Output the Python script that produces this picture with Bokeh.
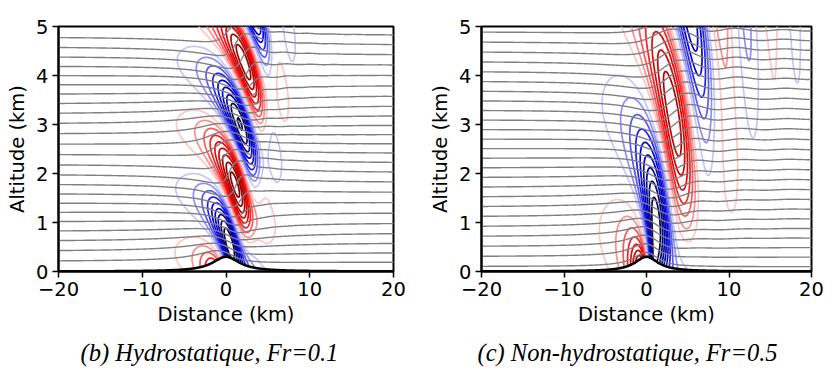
import numpy as np
from math import factorial
from bokeh.plotting import figure
from bokeh.layouts import row
from bokeh.models import Title
from bokeh.embed import file_html
from bokeh.resources import INLINE

# ---- values ----
X_TICKS = [-20, -10, 0, 10, 20]
Y_TICKS = [0, 1, 2, 3, 4, 5]
X_LABELS = {-20: "\u221220", -10: "\u221210", 0: "0", 10: "10", 20: "20"}
CAPTIONS = ["(b) Hydrostatique, Fr=0.1", "(c) Non-hydrostatique, Fr=0.5"]
MOUNTAIN_HEIGHT_KM = 0.3
MOUNTAIN_HALF_WIDTH_KM = [2.0, 1.75]      # panel b / panel c
WAVELENGTH_KM = [2.65, 5.5]               # 2*pi*U/N seen in each panel
NONLINEAR_BOUNDARY = [False, True]
STREAMLINES_B = [0.2, 0.4, 0.6, 0.8, 1.0, 1.2, 1.4, 1.6, 1.8, 2.0, 2.2, 2.4,
                 2.6, 2.8, 3.0, 3.2, 3.4, 3.6, 3.8, 4.0, 4.2, 4.4, 4.6, 4.8]
STREAMLINES_C = [0.1, 0.3, 0.5, 0.7, 0.9, 1.1, 1.3, 1.5, 1.7, 1.9, 2.1, 2.3,
                 2.5, 2.7, 2.9, 3.1, 3.3, 3.5, 3.7, 3.9, 4.1, 4.3, 4.5, 4.7, 4.9]
W_LEVELS = [-0.9, -0.8, -0.7, -0.6, -0.5, -0.4, -0.3, -0.2, -0.1,
            0.1, 0.2, 0.3, 0.4, 0.5, 0.6, 0.7, 0.8, 0.9]


def seismic(t):
    pos = [0.0, 0.25, 0.5, 0.75, 1.0]
    r = np.interp(t, pos, [0.0, 0.0, 1.0, 1.0, 0.5])
    g = np.interp(t, pos, [0.0, 0.0, 1.0, 0.0, 0.0])
    b = np.interp(t, pos, [0.3, 1.0, 1.0, 0.0, 0.0])
    return "#%02x%02x%02x" % (int(round(r * 255)), int(round(g * 255)), int(round(b * 255)))


lv = np.array(W_LEVELS)
LEVEL_COLORS = [seismic((v - lv.min()) / (lv.max() - lv.min())) for v in lv]


def solve(i):
    """Long's model: streamline displacement above a bell-shaped hill."""
    l = 2 * np.pi / WAVELENGTH_KM[i]
    a = MOUNTAIN_HALF_WIDTH_KM[i]
    n, dx = 32768, 0.05
    x = (np.arange(n) - n // 2) * dx
    hf = MOUNTAIN_HEIGHT_KM * a ** 2 / (x ** 2 + a ** 2)
    k = 2 * np.pi * np.fft.rfftfreq(n, dx)
    im = np.where(k < l, 1j * np.sqrt(np.maximum(l ** 2 - k ** 2, 0.0)),
                  -np.sqrt(np.maximum(k ** 2 - l ** 2, 0.0))).astype(complex)
    im[0] = 0.0
    filt = (k < 12).astype(float)
    d0 = hf.copy()
    if NONLINEAR_BOUNDARY[i]:
        for _ in range(110):
            D = np.fft.rfft(d0) * filt
            F = np.zeros(n)
            for p in range(15):
                F += hf ** p / factorial(p) * np.fft.irfft(D * im ** p, n)
            d0 = d0 + (hf - F)
    D = np.fft.rfft(d0) * filt
    sel = (x >= -20.2) & (x <= 20.2)
    xs = x[sel]
    hs = hf[sel]
    zs = np.arange(0.0, 5.0001, 0.02)
    W = np.empty((len(zs), len(xs)))
    P = np.empty_like(W)
    for j, z in enumerate(zs):
        E = D * np.exp(im * z)
        P[j] = z - np.fft.irfft(E, n)[sel]
        W[j] = np.fft.irfft(1j * k * E, n)[sel]
    below = zs[:, None] < hs[None, :]
    W[below] = np.nan
    P[below] = np.nan
    W = W / np.nanmax(np.abs(W))
    return xs, zs, hs, np.ma.masked_invalid(W), np.ma.masked_invalid(P)


def make_panel(i, streams, width, left, right, cap_offset):
    p = figure(width=width, height=380, x_range=(-20, 20), y_range=(0, 5),
               output_backend="svg", toolbar_location=None,
               min_border_left=left, min_border_right=right,
               min_border_top=26, min_border_bottom=109)
    xs, zs, hs, W, P = solve(i)
    p.contour(xs, zs, W, levels=W_LEVELS, line_color=LEVEL_COLORS, line_width=1.7)
    p.contour(xs, zs, P, levels=streams, line_color="#808080", line_width=1.4)
    p.line(xs, hs, line_color="black", line_width=2.6)

    p.grid.visible = False
    p.outline_line_color = "black"
    p.outline_line_width = 2
    p.background_fill_color = "white"
    p.border_fill_color = "white"
    for ax in (p.xaxis[0], p.yaxis[0]):
        ax.axis_line_width = 2
        ax.major_tick_out = 6
        ax.major_tick_in = 0
        ax.major_tick_line_width = 1.5
        ax.minor_tick_line_color = None
        ax.major_label_text_font = "DejaVu Sans"
        ax.major_label_text_font_size = "19.5px"
        ax.major_label_text_color = "black"
        ax.major_label_standoff = 4
        ax.axis_label_text_font = "DejaVu Sans"
        ax.axis_label_text_font_size = "19.5px"
        ax.axis_label_text_font_style = "normal"
        ax.axis_label_text_color = "black"
        ax.axis_label_standoff = 4
    p.xaxis.ticker = X_TICKS
    p.yaxis.ticker = Y_TICKS
    p.xaxis.major_label_overrides = X_LABELS
    p.xaxis.axis_label = "Distance (km)"
    p.yaxis.axis_label = "Altitude (km)"
    p.add_layout(Title(text=CAPTIONS[i], align="left", offset=cap_offset, standoff=16,
                       text_font="Liberation Serif", text_font_style="italic",
                       text_font_size="24.5px", text_color="black"), "below")
    return p


p1 = make_panel(0, STREAMLINES_B, 426, 58, 33, 22)
p2 = make_panel(1, STREAMLINES_C, 411, 50, 26, -4)
layout = row(p1, p2)
open("out.html", "w").write(file_html(layout, INLINE))
